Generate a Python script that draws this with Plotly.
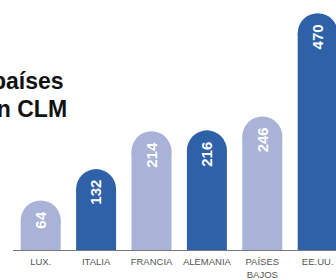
import plotly.graph_objects as go

# Data
categories = ["LUX.", "ITALIA", "FRANCIA", "ALEMANIA", "PAÍSES<br>BAJOS", "EE.UU."]
values = [64, 132, 214, 216, 246, 470]
bar_colors = ["#A9B2D7", "#2F61A9", "#A9B2D7", "#2F61A9", "#A9B2D7", "#2F61A9"]
title_line1 = "países"
title_line2 = "en CLM"

W, H = 336, 280
ML, MR, MT, MB = 13, 0, 0, 28
plot_w = W - ML - MR
plot_h = H - MT - MB
step_px = 55.4          # pixel distance between categories
px_per_unit = 0.465     # vertical scale
cap_px = 40             # bar width in px (also cap diameter)

fig = go.Figure()

fig.add_trace(go.Bar(
    x=categories, y=values,
    marker=dict(color=bar_colors, line=dict(width=0)),
    hoverinfo="skip", showlegend=False,
))

# rounded caps on top of the bars
fig.add_trace(go.Scatter(
    x=categories, y=values, mode="markers",
    marker=dict(symbol="circle", size=cap_px, color=bar_colors, line=dict(width=0)),
    hoverinfo="skip", showlegend=False,
))

annotations = []
for c, v in zip(categories, values):
    annotations.append(dict(
        x=c, y=v, xref="x", yref="y", text=f"<b>{v}</b>", showarrow=False,
        textangle=-90, yanchor="top", xanchor="center", yshift=11,
        font=dict(family="Liberation Sans, Arial, sans-serif", size=15, color="white"),
    ))

# title (partially outside the visible area on the left)
def px_to_paper_x(px):
    return (px - ML) / plot_w

def px_to_paper_y(py):
    return (H - MB - py) / plot_h

title_font = dict(family="Liberation Sans, Arial, sans-serif", size=23, color="#111111")
annotations.append(dict(
    xref="paper", yref="paper", x=px_to_paper_x(66), y=px_to_paper_y(82),
    xanchor="right", yanchor="middle", text=f"<b>{title_line1}</b>", showarrow=False,
    font=title_font,
))
annotations.append(dict(
    xref="paper", yref="paper", x=px_to_paper_x(-17.8), y=px_to_paper_y(110),
    xanchor="left", yanchor="middle", text=f"<b>{title_line2}</b>", showarrow=False,
    font=title_font,
))

fig.update_layout(
    width=W, height=H,
    margin=dict(l=ML, r=MR, t=MT, b=MB, pad=0),
    paper_bgcolor="white", plot_bgcolor="white",
    bargap=1 - cap_px / step_px,
    annotations=annotations,
    showlegend=False,
    xaxis=dict(
        type="category",
        range=[-0.5, -0.5 + plot_w / step_px],
        showgrid=False, zeroline=False,
        showline=True, linecolor="#777777", linewidth=1,
        ticks="", ticklabelstandoff=3,
        tickfont=dict(family="Liberation Sans, Arial, sans-serif", size=9.5, color="#555555"),
        fixedrange=True,
    ),
    yaxis=dict(
        range=[0, plot_h / px_per_unit],
        visible=False, showgrid=False, zeroline=False, fixedrange=True,
    ),
)

fig.write_html(
    "out.html",
    config={"displayModeBar": False},
    post_script="document.body.style.margin='0';document.body.style.overflow='hidden';",
)
